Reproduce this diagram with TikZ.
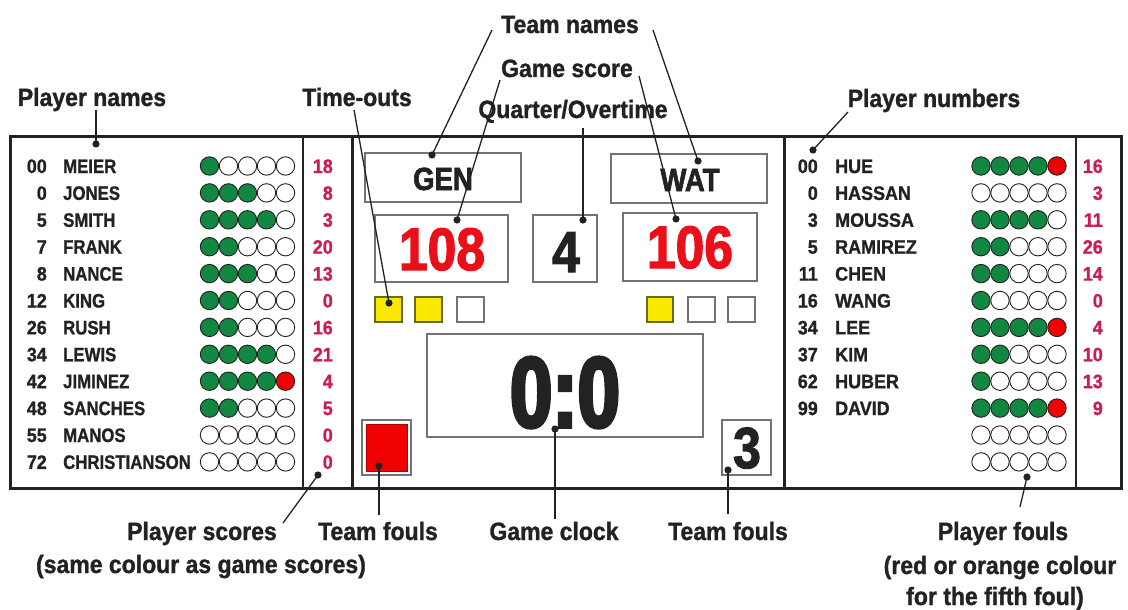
\documentclass[tikz,border=0pt]{standalone}
\usepackage{fontspec}
\setmainfont{Liberation Sans}
\newfontfamily\labf{Liberation Sans}[UprightFont=* Bold, FakeStretch=0.92, FakeBold=1.2]
\newfontfamily\brdA{Liberation Sans}[UprightFont=* Bold, FakeStretch=0.86, FakeBold=1]
\newfontfamily\brdB{Liberation Sans}[UprightFont=* Bold, FakeStretch=0.92, FakeBold=1]
\newfontfamily\bigf{Liberation Sans}[UprightFont=* Bold, FakeStretch=0.86, FakeBold=2]
\newfontfamily\clockf{Liberation Sans}[UprightFont=* Bold, FakeStretch=0.76, FakeBold=3.5]
\definecolor{ink}{RGB}{34,34,34}
\definecolor{fgreen}{RGB}{18,135,65}
\definecolor{fred}{RGB}{240,0,0}
\definecolor{pscore}{RGB}{200,30,85}
\definecolor{gscore}{RGB}{235,15,25}
\definecolor{tyellow}{RGB}{250,232,0}
\definecolor{boxgray}{RGB}{115,115,115}
\tikzset{
  lbl/.style={font=\labf\fontsize{25}{30}\selectfont, text=ink, inner sep=0pt, anchor=base},
  numA/.style={font=\brdB\fontsize{19.5}{20}\selectfont, text=ink, inner sep=0pt, anchor=base east},
  nameA/.style={font=\brdA\fontsize{19.5}{20}\selectfont, text=ink, inner sep=0pt, anchor=base west},
  nameB/.style={font=\brdB\fontsize{19.5}{20}\selectfont, text=ink, inner sep=0pt, anchor=base west},
  scr/.style={font=\brdB\fontsize{19.5}{20}\selectfont, text=pscore, inner sep=0pt, anchor=base east},
  board/.style={draw=ink, line width=3pt},
  divider/.style={draw=ink, line width=1.2pt},
  gbox/.style={draw=boxgray, line width=1.1pt},
  foul/.style={draw=ink, line width=0.9pt},
  conn/.style={draw=ink, line width=1.3pt},
  dotp/.style={fill=ink},
}
\begin{document}
\begin{tikzpicture}[x=1pt,y=-1pt]
\useasboundingbox (0,0) rectangle (1128,610);
\fill[white] (0,0) rectangle (1128,610);

% board panels
\draw[board] (10,136) rectangle (352,488);
\draw[board] (352,136) rectangle (784,488);
\draw[board] (784,136) rectangle (1121,488);
\draw[divider] (303,136) -- (303,488);
\draw[divider] (1076,136) -- (1076,488);

% left panel rows
\foreach \n/\nm/\g/\r/\s [count=\k from 0] in {00/MEIER/1/0/18, 0/JONES/3/0/8, 5/SMITH/4/0/3, 7/FRANK/2/0/20, 8/NANCE/3/0/13, 12/KING/2/0/0, 26/RUSH/2/0/16, 34/LEWIS/4/0/21, 42/JIMINEZ/4/1/4, 48/SANCHES/2/0/5, 55/MANOS/0/0/0, 72/CHRISTIANSON/0/0/0}{
  \pgfmathsetmacro\yy{166+26.9*\k}
  \pgfmathsetmacro\yb{\yy+7}
  \node[numA] (Ln\k) at (47,\yb) {\n};
  \node[nameA] (Lm\k) at (63,\yb) {\nm};
  \node[scr] (Ls\k) at (333,\yb) {\s};
  \foreach \i in {1,...,5}{
    \pgfmathsetmacro\cx{190.5+19*\i}
    \def\fc{white}
    \ifnum\i<\numexpr\g+1\relax \def\fc{fgreen}\fi
    \ifnum\i=5 \ifnum\r=1 \def\fc{fred}\fi\fi
    \draw[foul, fill=\fc] (\cx,\yy) circle (9.2pt);
  }
}

% right panel rows
\foreach \n/\nm/\g/\r/\s [count=\k from 0] in {00/HUE/4/1/16, 0/HASSAN/0/0/3, 3/MOUSSA/4/0/11, 5/RAMIREZ/2/0/26, 11/CHEN/2/0/14, 16/WANG/1/0/0, 34/LEE/4/1/4, 37/KIM/2/0/10, 62/HUBER/1/0/13, 99/DAVID/4/1/9}{
  \pgfmathsetmacro\yy{166+26.9*\k}
  \pgfmathsetmacro\yb{\yy+7}
  \node[numA] (Rn\k) at (818,\yb) {\n};
  \node[nameB] (Rm\k) at (835,\yb) {\nm};
  \node[scr] (Rs\k) at (1103,\yb) {\s};
  \foreach \i in {1,...,5}{
    \pgfmathsetmacro\cx{962+19*\i}
    \def\fc{white}
    \ifnum\i<\numexpr\g+1\relax \def\fc{fgreen}\fi
    \ifnum\i=5 \ifnum\r=1 \def\fc{fred}\fi\fi
    \draw[foul, fill=\fc] (\cx,\yy) circle (9.2pt);
  }
}
\foreach \k in {10,11}{
  \pgfmathsetmacro\yy{166+26.9*\k}
  \foreach \i in {1,...,5}{
    \pgfmathsetmacro\cx{962+19*\i}
    \draw[foul, fill=white] (\cx,\yy) circle (9.2pt);
  }
}

% centre panel
\draw[gbox] (365,153) rectangle (521,202);
\node[font=\bigf\fontsize{32}{34}\selectfont, text=ink, inner sep=0pt, anchor=base] (gen) at (443,190) {GEN};
\draw[gbox] (611,154) rectangle (767,203);
\node[font=\bigf\fontsize{32}{34}\selectfont, text=ink, inner sep=0pt, anchor=base] (wat) at (690,191) {WAT};

\draw[gbox] (375,215) rectangle (508,282);
\node[font=\bigf\fontsize{60}{62}\selectfont, text=gscore, inner sep=0pt, anchor=base] (s108) at (442,270) {108};
\draw[gbox] (533,215) rectangle (597,282);
\node[font=\bigf\fontsize{58}{60}\selectfont, text=ink, inner sep=0pt, anchor=base] (qtr) at (566,272) {4};
\draw[gbox] (623,213) rectangle (757,281);
\node[font=\bigf\fontsize{60}{62}\selectfont, text=gscore, inner sep=0pt, anchor=base] (s106) at (690,268) {106};

% time-outs
\draw[line width=1.1pt, draw=olive!70!black, fill=tyellow] (375,297) rectangle (402,322);
\draw[line width=1.1pt, draw=olive!70!black, fill=tyellow] (415,297) rectangle (442,322);
\draw[gbox, fill=white] (457,297) rectangle (484,322);
\draw[line width=1.1pt, draw=olive!70!black, fill=tyellow] (647,297) rectangle (673,322);
\draw[gbox, fill=white] (688,297) rectangle (715,322);
\draw[gbox, fill=white] (728,297) rectangle (755,322);

% clock
\draw[gbox] (427,334) rectangle (703,437);
\node[font=\clockf\fontsize{100}{100}\selectfont, text=ink, inner sep=0pt, anchor=base] (clock) at (565,427) {0:0};

% team fouls
\draw[gbox] (362,420) rectangle (411,475);
\draw[line width=1pt, draw=red!70!black, fill=fred] (366,424) rectangle (407,471);
\draw[gbox] (722,420) rectangle (771,475);
\node[font=\bigf\fontsize{58}{60}\selectfont, text=ink, inner sep=0pt, anchor=base] (tf3) at (747,468) {3};

% labels
\node[lbl] (lPN) at (92,106) {Player names};
\node[lbl] (lTO) at (357,106) {Time-outs};
\node[lbl] (lTN) at (570,33) {Team names};
\node[lbl] (lGS) at (567,77) {Game score};
\node[lbl] (lQO) at (573,118) {Quarter/Overtime};
\node[lbl] (lPNum) at (934,107) {Player numbers};
\node[lbl] (lPS) at (202,540) {Player scores};
\node[lbl] (lPS2) at (201,573) {(same colour as game scores)};
\node[lbl] (lTF1) at (378,540) {Team fouls};
\node[lbl] (lGC) at (554,540) {Game clock};
\node[lbl] (lTF2) at (728,540) {Team fouls};
\node[lbl] (lPF) at (1003,540) {Player fouls};
\node[lbl] (lPF2) at (1000,574) {(red or orange colour};
\node[lbl] (lPF3) at (995,605) {for the fifth foul)};

% connector ends
\coordinate (aPN) at (96,110);   \coordinate (dPN) at (96,144);
\coordinate (aTO) at (354,110);  \coordinate (dTO) at (389,303);
\coordinate (aTN1) at (492,30);  \coordinate (dTN1) at (432,155);
\coordinate (aTN2) at (653,30);  \coordinate (dTN2) at (698,161);
\coordinate (aGS1) at (500,80);  \coordinate (dGS1) at (457,220);
\coordinate (aGS2) at (639,76);  \coordinate (dGS2) at (676,219);
\coordinate (aQO) at (583,128);  \coordinate (dQO) at (583,220);
\coordinate (aPNum) at (848,112);\coordinate (dPNum) at (813,150);
\coordinate (aPS) at (283,523);  \coordinate (dPS) at (318,475);
\coordinate (aTF1) at (379,515); \coordinate (dTF1) at (379,466);
\coordinate (aGC) at (555,519);  \coordinate (dGC) at (555,429);
\coordinate (aTF2) at (728,514); \coordinate (dTF2) at (728,470);
\coordinate (aPF) at (1020,507); \coordinate (dPF) at (1027,477);

\foreach \a/\d in {aPN/dPN, aTO/dTO, aTN1/dTN1, aTN2/dTN2, aGS1/dGS1, aGS2/dGS2, aQO/dQO, aPNum/dPNum, aPS/dPS, aTF1/dTF1, aGC/dGC, aTF2/dTF2, aPF/dPF}{
  \draw[conn] (\a) -- (\d);
  \fill[dotp] (\d) circle (3.6pt);
}
\end{tikzpicture}
\end{document}
